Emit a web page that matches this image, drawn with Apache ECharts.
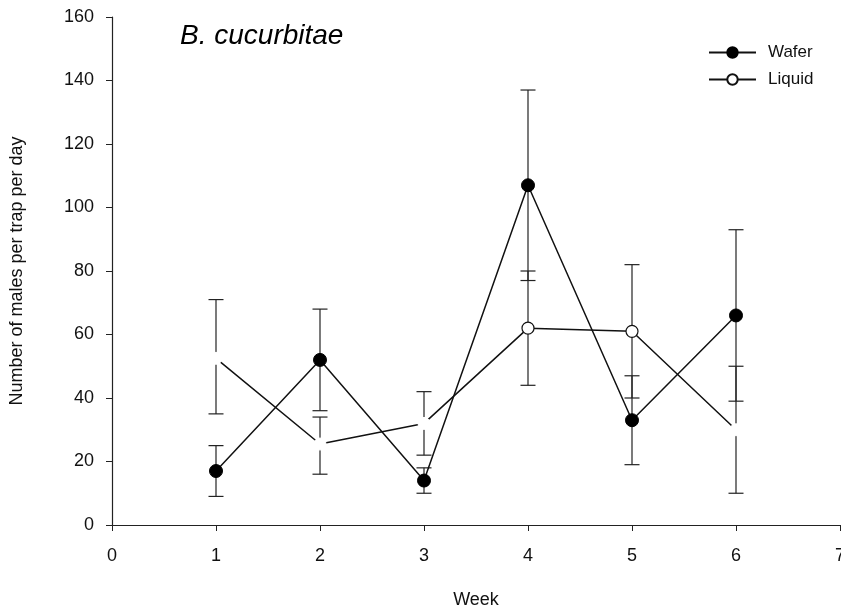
<!DOCTYPE html>
<html>
<head>
<meta charset="utf-8">
<script src="https://cdn.jsdelivr.net/npm/echarts@6/dist/echarts.min.js"></script>
<style>html,body{margin:0;padding:0;background:#fff}#c{width:841px;height:616px}</style>
</head>
<body>
<div id="c"></div>
<script>
const weeks = [1, 2, 3, 4, 5, 6];
const waferMean = [17, 52, 14, 107, 33, 66];
const waferLow  = [9, 36, 10, 77, 19, 39];
const waferHigh = [25, 68, 18, 137, 47, 93];
const liquidMean = [52.5, 25.5, 32, 62, 61, 30];
const liquidLow  = [35, 16, 22, 44, 40, 10];
const liquidHigh = [71, 34, 42, 80, 82, 50];
const xTicks = [0, 1, 2, 3, 4, 5, 6, 7];
const yTicks = [0, 20, 40, 60, 80, 100, 120, 140, 160];
// liquid points whose marker is not visible in the original (drawn white)
const liquidHidden = [true, true, true, false, false, true];

const FONT = 'Liberation Sans, Arial, sans-serif';

function errorSeries(name, lows, highs) {
  return {
    name: name + ' err',
    type: 'custom',
    z: 1,
    silent: true,
    data: weeks.map((w, i) => [w, lows[i], highs[i]]),
    renderItem: function (params, api) {
      const x = api.value(0);
      const lo = api.coord([x, api.value(1)]);
      const hi = api.coord([x, api.value(2)]);
      const hw = 7.5;
      const st = { stroke: '#222', lineWidth: 1.2 };
      return {
        type: 'group',
        children: [
          { type: 'line', shape: { x1: lo[0], y1: lo[1], x2: hi[0], y2: hi[1] }, style: st },
          { type: 'line', shape: { x1: lo[0] - hw, y1: lo[1], x2: lo[0] + hw, y2: lo[1] }, style: st },
          { type: 'line', shape: { x1: hi[0] - hw, y1: hi[1], x2: hi[0] + hw, y2: hi[1] }, style: st }
        ]
      };
    }
  };
}

const chart = echarts.init(document.getElementById('c'));
chart.setOption({
  animation: false,
  backgroundColor: '#fff',
  textStyle: { fontFamily: FONT },
  title: {
    text: 'B. cucurbitae',
    left: 175, top: 17,
    textStyle: { fontFamily: FONT, fontStyle: 'italic', fontWeight: 'normal', fontSize: 28, color: '#000' }
  },
  legend: {
    data: ['Wafer', 'Liquid'],
    orient: 'vertical',
    left: 703, top: 39,
    itemWidth: 47, itemHeight: 13, itemGap: 10,
    textStyle: { fontFamily: FONT, fontSize: 17, color: '#111', padding: [0, 0, 0, 7] }
  },
  grid: { left: 112, right: 1, top: 17, bottom: 91, outerBoundsMode: 'none', containLabel: false },
  xAxis: {
    type: 'value', min: xTicks[0], max: xTicks[xTicks.length - 1], interval: 1,
    name: 'Week', nameLocation: 'middle', nameGap: 66,
    nameTextStyle: { fontFamily: FONT, fontSize: 18, color: '#111' },
    axisLine: { lineStyle: { color: '#222', width: 1.2 } },
    axisTick: { inside: false, length: 6, lineStyle: { color: '#222' } },
    axisLabel: { fontFamily: FONT, fontSize: 18, color: '#111', margin: 22,
      showMaxLabel: true, showMinLabel: true,
      formatter: v => xTicks.includes(v) ? String(v) : '' },
    splitLine: { show: false }
  },
  yAxis: {
    type: 'value', min: yTicks[0], max: yTicks[yTicks.length - 1], interval: 20,
    name: 'Number of males per trap per day', nameLocation: 'middle', nameGap: 86,
    nameTextStyle: { fontFamily: FONT, fontSize: 18, color: '#111' },
    axisLine: { show: true, lineStyle: { color: '#222', width: 1.2 } },
    axisTick: { show: true, inside: false, length: 6, lineStyle: { color: '#222' } },
    axisLabel: { fontFamily: FONT, fontSize: 18, color: '#111', margin: 18,
      formatter: v => yTicks.includes(v) ? String(v) : '' },
    splitLine: { show: false }
  },
  series: [
    errorSeries('Wafer', waferLow, waferHigh),
    errorSeries('Liquid', liquidLow, liquidHigh),
    {
      name: 'Liquid',
      type: 'line',
      z: 3,
      symbol: 'circle',
      symbolSize: 12,
      lineStyle: { color: '#111', width: 1.5 },
      itemStyle: { color: '#fff', borderColor: '#111', borderWidth: 1.2 },
      data: weeks.map((w, i) => liquidHidden[i]
        ? { value: [w, liquidMean[i]], itemStyle: { color: '#fff', borderColor: '#fff', borderWidth: 1 } }
        : { value: [w, liquidMean[i]] })
    },
    {
      name: 'Wafer',
      type: 'line',
      z: 4,
      symbol: 'circle',
      symbolSize: 13,
      lineStyle: { color: '#111', width: 1.5 },
      itemStyle: { color: '#000', borderColor: '#000', borderWidth: 1 },
      data: weeks.map((w, i) => [w, waferMean[i]])
    }
  ]
});
</script>
</body>
</html>
